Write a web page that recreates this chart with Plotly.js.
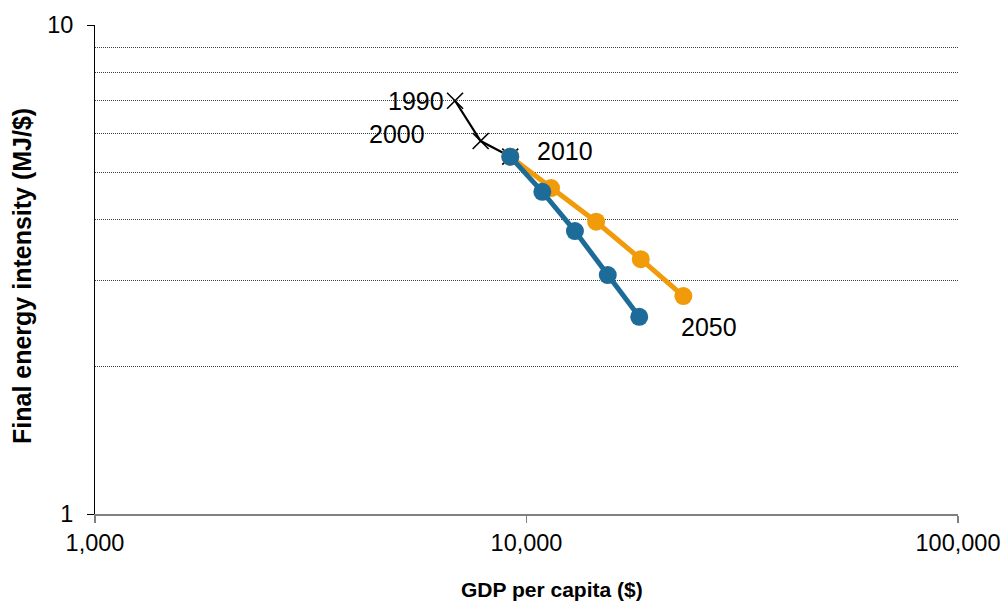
<!DOCTYPE html>
<html>
<head>
<meta charset="utf-8">
<script src="https://cdn.plot.ly/plotly-3.0.1.min.js"></script>
<style>html,body{margin:0;padding:0;background:#fff}#chart{width:1003px;height:601px}</style>
</head>
<body>
<div id="chart"></div>
<script>
// Historical (1990, 2000, 2010)
const histYears = ['1990', '2000', '2010'];
const histGdp = [6830, 7830, 9170];
const histIntensity = [7.0, 5.79, 5.38];

// Scenario A (orange) 2010..2050
const orangeGdp = [9170, 11400, 14500, 18400, 23100];
const orangeIntensity = [5.38, 4.64, 3.96, 3.32, 2.79];

// Scenario B (blue) 2010..2050
const blueGdp = [9170, 10880, 12950, 15430, 18250];
const blueIntensity = [5.38, 4.56, 3.79, 3.08, 2.53];

const endLabel = '2050';

const xTitle = 'GDP per capita ($)';
const yTitle = 'Final energy intensity (MJ/$)';
const xTickVals = [1000, 10000, 100000];
const xTickText = ['1,000', '10,000', '100,000'];
const yTickVals = [1, 10];
const yTickText = ['1', '10'];
const yGridVals = [2, 3, 4, 5, 6, 7, 8, 9];

const FONT = 'Liberation Sans, Arial, sans-serif';
const BLUE = '#1d6b99';
const ORANGE = '#f19b0b';
const GRID = '#3c3c3c';

const traces = [
  {
    x: histGdp, y: histIntensity, mode: 'lines+markers', type: 'scatter',
    line: {color: '#000', width: 2.2},
    marker: {symbol: 'x-thin-open', size: 16, color: '#000', line: {color: '#000', width: 1.6}},
    hoverinfo: 'skip'
  },
  {
    x: orangeGdp, y: orangeIntensity, mode: 'lines+markers', type: 'scatter',
    line: {color: ORANGE, width: 5},
    marker: {symbol: 'circle', size: 18, color: ORANGE},
    hoverinfo: 'skip'
  },
  {
    x: blueGdp, y: blueIntensity, mode: 'lines+markers', type: 'scatter',
    line: {color: BLUE, width: 5},
    marker: {symbol: 'circle', size: 18, color: BLUE},
    hoverinfo: 'skip'
  }
];

const annFont = {family: FONT, size: 25, color: '#000'};
const annotations = [
  {x: Math.log10(histGdp[0]), y: Math.log10(histIntensity[0]), text: histYears[0], showarrow: false,
   xanchor: 'right', yanchor: 'middle', xshift: -9, yshift: 0, font: annFont},
  {x: Math.log10(histGdp[1]), y: Math.log10(histIntensity[1]), text: histYears[1], showarrow: false,
   xanchor: 'right', yanchor: 'middle', xshift: -54, yshift: 7, font: annFont},
  {x: Math.log10(histGdp[2]), y: Math.log10(histIntensity[2]), text: histYears[2], showarrow: false,
   xanchor: 'left', yanchor: 'middle', xshift: 25, yshift: 6, font: annFont},
  {x: Math.log10(orangeGdp[4]), y: Math.log10(orangeIntensity[4]), text: endLabel, showarrow: false,
   xanchor: 'left', yanchor: 'middle', xshift: -4, yshift: -31, font: annFont},
  // axis titles
  {xref: 'paper', yref: 'paper', x: 0.5296, y: -0.1554, text: '<b>' + xTitle + '</b>', showarrow: false,
   xanchor: 'center', yanchor: 'middle', font: {family: FONT, size: 21, color: '#000'}},
  {xref: 'paper', yref: 'paper', x: -0.0846, y: 0.4867, text: '<b>' + yTitle + '</b>', showarrow: false,
   textangle: -90, xanchor: 'center', yanchor: 'middle', font: {family: FONT, size: 25, color: '#000'}}
];

const layout = {
  width: 1003, height: 601,
  margin: {l: 95, r: 45, t: 25, b: 87},
  paper_bgcolor: '#fff', plot_bgcolor: '#fff',
  showlegend: false,
  font: {family: FONT, size: 23, color: '#000'},
  xaxis: {
    type: 'log', range: [3, 5],
    tickmode: 'array', tickvals: xTickVals, ticktext: xTickText,
    ticks: 'outside', ticklen: 7, tickcolor: '#808080', tickwidth: 1.5,
    showline: true, linecolor: '#808080', linewidth: 2,
    showgrid: false, zeroline: false,
    tickfont: {family: FONT, size: 23.5, color: '#000'}
  },
  yaxis: {
    type: 'log', range: [0, 1],
    tickmode: 'array', tickvals: yTickVals, ticktext: yTickText,
    ticks: 'outside', ticklen: 7, tickcolor: '#000', tickwidth: 1,
    ticklabelstandoff: 9,
    showline: true, linecolor: '#000', linewidth: 1,
    showgrid: true, gridcolor: GRID, griddash: '1px,1px', gridwidth: 1,
    zeroline: false,
    minor: {tickmode: 'array', tickvals: yGridVals, showgrid: true, gridcolor: GRID, griddash: '1px,1px', gridwidth: 1, ticks: ''},
    tickfont: {family: FONT, size: 23.5, color: '#000'}
  },
  annotations: annotations
};

Plotly.newPlot('chart', traces, layout, {staticPlot: true, displayModeBar: false});
</script>
</body>
</html>
